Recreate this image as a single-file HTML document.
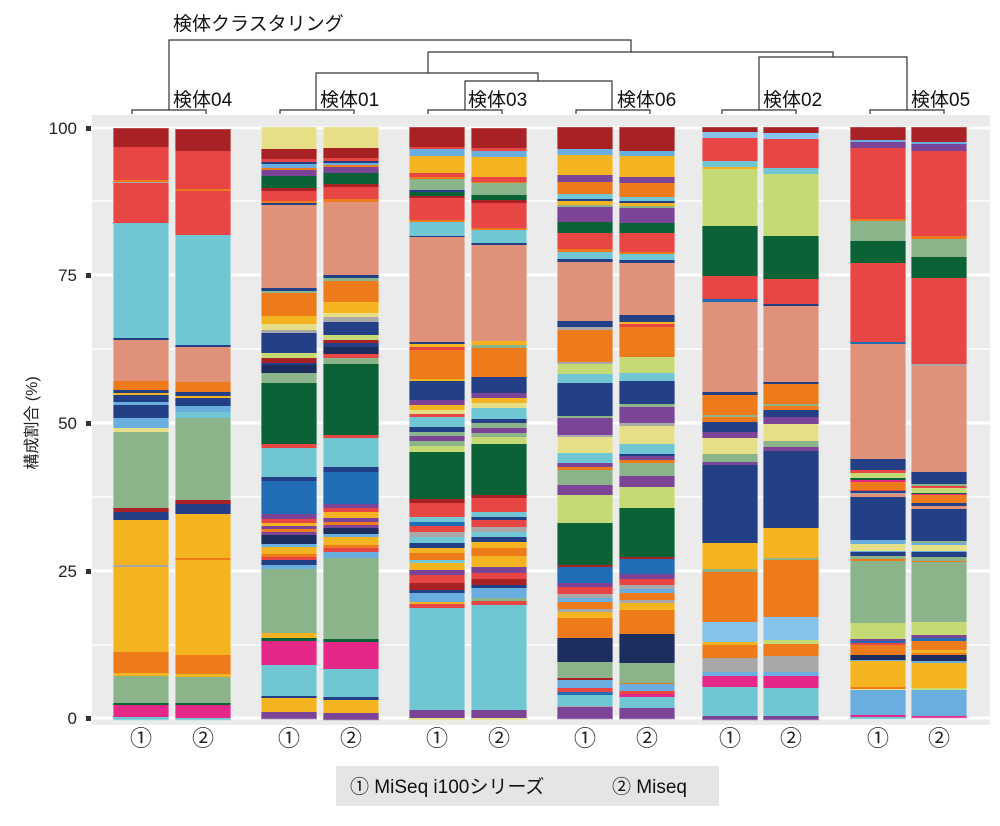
<!DOCTYPE html>
<html><head><meta charset="utf-8"><style>
body{margin:0;background:#fff;width:1000px;height:821px;overflow:hidden;font-family:"Liberation Sans","Noto Sans CJK JP",sans-serif}
</style></head><body>
<svg id="s" width="1000" height="821" xmlns="http://www.w3.org/2000/svg" font-family="Liberation Sans, Noto Sans CJK JP, sans-serif">
<rect x="92" y="115" width="898" height="610" fill="#ebebeb"/>
<g stroke="#fff">
<line x1="92" x2="990" y1="201" y2="201" stroke-width="1.5"/>
<line x1="92" x2="990" y1="349" y2="349" stroke-width="1.5"/>
<line x1="92" x2="990" y1="497" y2="497" stroke-width="1.5"/>
<line x1="92" x2="990" y1="645" y2="645" stroke-width="1.5"/>
<line x1="92" x2="990" y1="128" y2="128" stroke-width="3"/>
<line x1="92" x2="990" y1="275" y2="275" stroke-width="3"/>
<line x1="92" x2="990" y1="423" y2="423" stroke-width="3"/>
<line x1="92" x2="990" y1="571" y2="571" stroke-width="3"/>
<line x1="92" x2="990" y1="718" y2="718" stroke-width="3"/>
</g>
<g id="bars"></g>
<g fill="#333">
<rect x="86" y="126" width="5" height="5"/><rect x="86" y="273" width="5" height="5"/><rect x="86" y="421" width="5" height="5"/><rect x="86" y="569" width="5" height="5"/><rect x="86" y="716" width="5" height="5"/>
</g>
<g font-size="17" fill="#222" text-anchor="end">
<text x="77" y="134">100</text><text x="77" y="281">75</text><text x="77" y="429">50</text><text x="77" y="577">25</text><text x="77" y="724">0</text>
</g>
<text transform="translate(37,423) rotate(-90)" font-size="16" text-anchor="middle" fill="#222">構成割合 (%)</text>
<g stroke="#333" stroke-width="1.2" fill="none">
<path d="M169,110V40H631V52"/>
<path d="M428,52H833V57"/>
<path d="M428,52V73"/>
<path d="M316,110V73H538V81"/>
<path d="M465,110V81H612V110"/>
<path d="M759,110V57H907V110"/>
<path d="M132,114V110H206V114"/>
<path d="M280,114V110H354V114"/>
<path d="M428,114V110H502V114"/>
<path d="M576,114V110H650V114"/>
<path d="M722,114V110H796V114"/>
<path d="M870,114V110H944V114"/>
</g>
<g font-size="19" fill="#111">
<text x="173" y="30">検体クラスタリング</text>
<text x="173" y="106">検体04</text>
<text x="320" y="106">検体01</text>
<text x="468" y="106">検体03</text>
<text x="617" y="106">検体06</text>
<text x="763" y="106">検体02</text>
<text x="911" y="106">検体05</text>
</g>
<g id="xl" font-size="22" fill="#222" text-anchor="middle"></g>
<rect x="336" y="766" width="383" height="40" fill="#e5e5e5"/>
<text x="350" y="793" font-size="19" fill="#111">① MiSeq i100シリーズ</text>
<text x="612" y="793" font-size="19" fill="#111">② Miseq</text>
</svg>
<script>
var C={DR:"#a82225",R:"#e84545",C:"#71c6d3",S:"#e0917a",O:"#ed7b1c",N:"#233f85",LB:"#6aaddf",LB2:"#86c3ea",SG:"#8bb48a",Y:"#f4b422",P:"#e52888",PU:"#7b4496",G:"#0b6236",L:"#c5da74",PY:"#e7df88",B:"#206db5",DN:"#1d2d5d",GR:"#a8a8a8"};
var D=[
[113,"128 DR,147 R,180 O,182 GR,183 R,223 C,338 N,340 S,381 O,390 N,393 Y,395 N,402 LB,405 N,418 LB,428 PY,432 SG,508 DR,512 N,520 Y,565 GR,567 Y,652 O,673 Y,676 SG,703 G,705 P,717 C,720"],
[175,"129 DR,151 R,189 O,191 R,235 C,345 N,347 S,382 O,392 N,396 Y,398 N,406 LB,412 C,418 SG,500 DR,504 N,514 Y,558 O,560 Y,655 O,674 Y,677 SG,703 G,705 P,718 C,720"],
[261,"127 PY,149 DR,159 R,162 N,164 LB,168 O,170 PU,176 G,188 DR,191 R,201 O,203 N,205 S,288 N,291 SG,293 O,316 Y,324 PY,330 GR,333 N,353 L,358 DR,363 N,365 DN,373 SG,383 G,444 R,448 C,477 N,481 B,514 PU,519 R,523 Y,526 PU,529 O,532 PU,535 DN,544 LB,547 Y,554 O,557 R,560 N,565 LB,569 SG,633 Y,638 G,641 P,665 C,696 N,698 Y,712 PU,719"],
[323,"127 PY,148 DR,158 R,161 N,163 LB,165 O,167 PU,173 G,184 DR,187 R,199 O,202 S,275 N,278 SG,281 O,302 Y,313 PY,317 GR,322 N,335 L,340 DR,343 N,347 DN,354 R,358 SG,364 G,435 R,438 C,467 N,472 B,504 PU,508 R,512 Y,518 PU,522 O,525 PU,528 DN,534 LB,537 Y,545 O,548 R,552 LB,558 SG,639 G,642 P,669 C,697 N,700 Y,713 PU,720"],
[409,"127 DR,147 R,149 LB,156 Y,173 R,177 O,179 SG,190 N,192 G,196 DR,198 R,220 O,222 C,236 N,237 S,342 N,344 Y,347 R,350 O,379 Y,381 N,400 PU,405 Y,410 PY,414 R,417 C,427 N,432 SG,436 PU,441 SG,446 L,452 G,499 DR,503 R,517 C,522 B,526 R,532 GR,537 C,543 N,548 Y,553 O,560 C,563 Y,570 PU,575 R,583 DR,590 N,593 LB,602 Y,604 R,608 C,710 PU,718 PY,720"],
[471,"128 DR,148 R,151 LB,157 Y,177 R,182 O,183 SG,195 G,200 DR,203 R,228 O,230 C,243 N,245 S,341 Y,345 SG,348 O,377 N,393 PU,398 Y,403 PY,408 C,419 N,423 SG,428 PU,433 SG,437 L,444 G,495 DR,498 R,512 C,517 N,520 R,527 GR,532 C,537 N,542 Y,548 O,556 Y,567 PU,573 R,579 DR,585 N,588 LB,598 SG,601 R,605 C,710 PU,718 PY,720"],
[557,"127 DR,149 LB,155 Y,175 PU,182 O,194 C,199 N,201 Y,205 SG,207 PU,222 G,233 R,249 O,252 C,259 N,262 S,321 N,327 GR,330 O,362 GR,364 L,374 C,383 N,416 SG,418 PU,435 GR,437 PY,453 C,463 PU,467 O,470 SG,485 PU,495 L,523 G,565 DR,567 B,583 PU,587 R,594 GR,598 LB,602 O,609 GR,612 Y,618 O,638 DN,662 SG,678 DR,680 LB,688 R,692 B,695 C,706 GR,707 PU,719"],
[619,"127 DR,151 LB,156 Y,177 PU,183 O,197 C,201 N,203 Y,206 SG,208 PU,223 G,233 R,252 O,254 C,260 N,263 S,315 N,322 Y,324 R,327 O,357 L,373 C,381 N,404 SG,407 PU,423 GR,426 PY,444 C,454 N,456 PU,460 O,463 SG,476 PU,487 L,508 G,557 DR,559 B,574 PU,579 R,585 GR,589 LB,593 O,600 GR,603 Y,610 O,634 DN,663 SG,683 O,684 LB,691 R,694 P,697 C,708 PU,719"],
[702,"127 DR,132 LB2,138 R,161 C,167 Y,169 L,226 G,276 R,299 B,302 S,392 N,395 O,415 SG,417 O,422 N,432 PU,438 PY,454 SG,462 PU,465 N,543 Y,569 SG,572 O,622 LB2,642 Y,645 O,658 GR,672 LB,676 P,687 C,716 PU,720"],
[763,"127 DR,133 LB2,139 R,168 C,174 L,236 G,279 R,304 N,306 S,382 N,384 O,404 SG,406 O,410 N,417 PU,424 PY,441 SG,447 PU,451 N,528 Y,558 SG,560 O,617 LB2,640 L,644 O,656 GR,672 LB,676 P,688 C,716 PU,720"],
[850,"127 DR,140 LB,142 PU,148 R,219 O,221 SG,241 G,263 R,342 B,344 S,459 N,470 R,473 L,478 G,480 P,482 O,490 R,491 N,493 GR,494 S,497 N,540 LB,544 PY,551 LB,552 N,556 SG,559 O,561 SG,623 L,639 PU,641 B,643 R,645 O,655 DN,660 LB,661 Y,687 O,689 PY,690 LB,715 P,717 C,719"],
[911,"127 DR,142 LB,144 PU,151 R,236 O,239 SG,257 G,278 R,364 GR,366 S,472 N,484 SG,486 R,488 L,493 G,494 P,495 O,503 N,506 S,509 N,541 SG,543 LB,545 PY,551 LB,552 N,557 SG,561 O,562 SG,622 L,635 PU,638 B,641 O,650 Y,653 O,655 DN,661 LB,663 Y,688 L,690 LB,716 P,718"]
];
var g=document.getElementById("bars"),h="",xl="";
D.forEach(function(d,i){var p=d[1].split(",").map(function(s){return s.trim().split(" ");});
for(var k=0;k<p.length-1;k++){var y=+p[k][0],y2=+p[k+1][0];h+='<rect x="'+d[0]+'" y="'+y+'" width="56" height="'+(y2-y+0.3)+'" fill="'+C[p[k][1]]+'"/>';}
h+='<rect x="'+(d[0]+0.5)+'" y="'+p[0][0]+'" width="55" height="'+(p[p.length-1][0]-p[0][0])+'" fill="none" stroke="rgba(255,255,255,0.35)" stroke-width="1"/>';
xl+='<text x="'+(d[0]+28)+'" y="746">'+(i%2?'②':'①')+'</text>';});
g.innerHTML=h;document.getElementById("xl").innerHTML=xl;
</script>
</body></html>
